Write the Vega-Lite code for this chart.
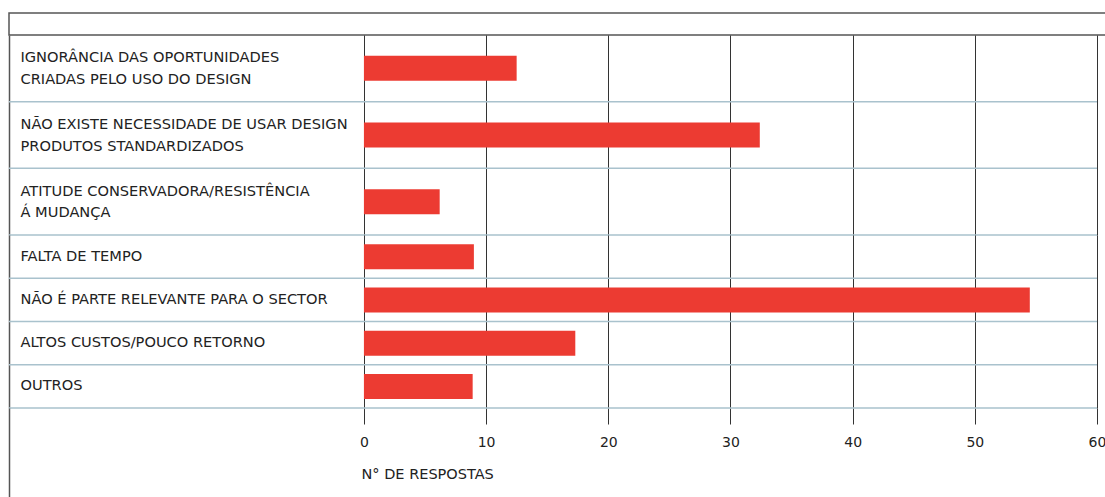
{
  "$schema": "https://vega.github.io/schema/vega-lite/v6.json",
  "padding": {"left": 8, "top": 12, "right": 0, "bottom": 0},
  "autosize": {"type": "pad"},
  "background": "white",
  "config": {
    "view": {"stroke": null},
    "font": "DejaVu Sans",
    "axis": {"labelFont": "DejaVu Sans", "titleFont": "DejaVu Sans"}
  },
  "datasets": {
    "linhas_altas": [
      {"causa": "IGNORÂNCIA DAS OPORTUNIDADES\nCRIADAS PELO USO DO DESIGN", "respostas": 12.5},
      {"causa": "NÃO EXISTE NECESSIDADE DE USAR DESIGN\nPRODUTOS STANDARDIZADOS", "respostas": 32.4},
      {"causa": "ATITUDE CONSERVADORA/RESISTÊNCIA\nÁ MUDANÇA", "respostas": 6.2}
    ],
    "linhas_baixas": [
      {"causa": "FALTA DE TEMPO", "respostas": 9.0},
      {"causa": "NÃO É PARTE RELEVANTE PARA O SECTOR", "respostas": 54.5},
      {"causa": "ALTOS CUSTOS/POUCO RETORNO", "respostas": 17.3},
      {"causa": "OUTROS", "respostas": 8.9}
    ]
  },
  "spacing": 0,
  "bounds": "flush",
  "vconcat": [
    {
      "width": 1100,
      "height": 22,
      "view": {"stroke": "#555", "strokeWidth": 1.5},
      "data": {"values": [{}]},
      "mark": {"type": "text", "text": ""},
      "encoding": {}
    },
    {
      "width": 1088,
      "height": 200,
      "data": {"name": "linhas_altas"},
      "layer": [
        {
          "mark": {"type": "rule", "color": "#a9c2cd", "strokeWidth": 1.5},
          "encoding": {
            "y": {"field": "causa", "type": "nominal", "sort": null, "bandPosition": 1}
          }
        },
        {
          "mark": {"type": "bar", "color": "#ec3b32", "size": 25},
          "encoding": {
            "y": {
              "field": "causa", "type": "nominal", "sort": null,
              "scale": {"paddingInner": 0, "paddingOuter": 0},
              "axis": {
                "title": null, "domain": true, "domainColor": "#555", "domainWidth": 1.5,
                "ticks": false, "tickSize": 0, "grid": false,
                "labelAlign": "left", "labelPadding": -11, "labelFontSize": 14.6,
                "labelColor": "#222", "labelLimit": 500, "labelLineHeight": 21.5,
                "labelOffset": -10,
                "labelExpr": "split(datum.label, '\\n')"
              }
            },
            "x": {
              "field": "respostas", "type": "quantitative",
              "scale": {"domain": [-29.05, 60], "nice": false, "zero": false},
              "axis": {
                "values": [0, 10, 20, 30, 40, 50, 60], "grid": true, "gridColor": "#333",
                "gridWidth": 1, "gridOpacity": 1, "domain": false, "ticks": false,
                "labels": false, "title": null
              }
            },
            "x2": {"datum": 0}
          }
        }
      ]
    },
    {
      "width": 1088,
      "height": 173,
      "data": {"name": "linhas_baixas"},
      "layer": [
        {
          "mark": {"type": "rule", "color": "#a9c2cd", "strokeWidth": 1.5},
          "encoding": {
            "y": {"field": "causa", "type": "nominal", "sort": null, "bandPosition": 1}
          }
        },
        {
          "mark": {"type": "bar", "color": "#ec3b32", "size": 25},
          "encoding": {
            "y": {
              "field": "causa", "type": "nominal", "sort": null,
              "scale": {"paddingInner": 0, "paddingOuter": 0},
              "axis": {
                "title": null, "domain": true, "domainColor": "#555", "domainWidth": 1.5,
                "ticks": false, "tickSize": 0, "grid": false,
                "labelAlign": "left", "labelPadding": -11, "labelFontSize": 14.6,
                "labelColor": "#222", "labelLimit": 500, "labelLineHeight": 21.5
              }
            },
            "x": {
              "field": "respostas", "type": "quantitative",
              "scale": {"domain": [-29.05, 60], "nice": false, "zero": false},
              "axis": {
                "values": [0, 10, 20, 30, 40, 50, 60], "grid": true, "gridColor": "#333",
                "gridWidth": 1, "gridOpacity": 1, "domain": false,
                "ticks": true, "tickSize": 16, "tickColor": "#333", "tickWidth": 1,
                "labels": true, "labelFontSize": 14, "labelColor": "#222", "labelPadding": 11,
                "labelFlush": false,
                "title": "N° DE RESPOSTAS", "titleFontSize": 14.5, "titleFontWeight": "normal",
                "titleColor": "#222", "titleAlign": "left", "titleAnchor": "start",
                "titleX": 352, "titleY": 66, "titleBaseline": "middle"
              }
            },
            "x2": {"datum": 0}
          }
        }
      ]
    },
    {
      "width": 1088,
      "height": 90,
      "data": {"values": [{}]},
      "mark": {"type": "rule", "opacity": 0},
      "encoding": {
        "y": {
          "datum": 0, "type": "quantitative",
          "axis": {"domain": true, "domainColor": "#555", "domainWidth": 1.5, "ticks": false, "labels": false, "grid": false, "title": null}
        }
      }
    }
  ]
}
